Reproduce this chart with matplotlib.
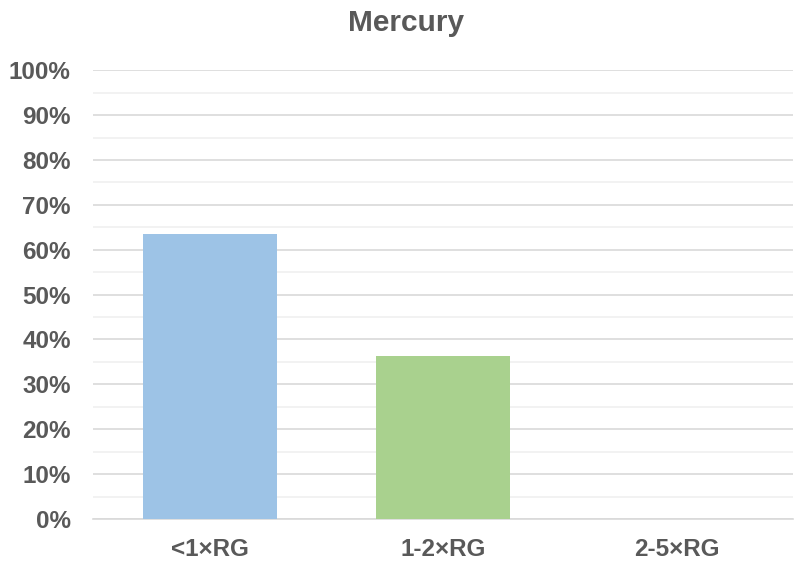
import matplotlib.pyplot as plt
from matplotlib.ticker import MultipleLocator, PercentFormatter

# Share of samples per concentration band
categories = ["<1×RG", "1-2×RG", "2-5×RG"]
shares = [63.6, 36.4, 0.0]
colors = ["#9dc3e6", "#a9d18e", "#f4b183"]

plt.rcParams["font.family"] = ["Liberation Sans", "DejaVu Sans"]
plt.rcParams["font.weight"] = "bold"
text_color = "#595959"

fig = plt.figure(figsize=(7.94, 5.66), dpi=100)
ax = fig.add_axes([0.117, 0.083, 0.882, 0.793])

x = range(len(categories))
ax.bar(x, shares, width=0.575, color=colors, zorder=3)

ax.set_xlim(-0.5, len(categories) - 0.5)
ax.set_ylim(0, 100)
ax.yaxis.set_major_locator(MultipleLocator(10))
ax.yaxis.set_minor_locator(MultipleLocator(5))
ax.yaxis.set_major_formatter(PercentFormatter(decimals=0))
ax.grid(axis="y", which="major", color="#d9d9d9", linewidth=1.2, zorder=0)
ax.grid(axis="y", which="minor", color="#f0f0f0", linewidth=1.2, zorder=0)

ax.set_xticks(list(x))
ax.set_xticklabels(categories)
ax.tick_params(axis="both", which="both", length=0, labelsize=17.5,
               labelcolor=text_color)
ax.tick_params(axis="x", pad=14)
ax.tick_params(axis="y", pad=16)

for side in ["top", "right", "left"]:
    ax.spines[side].set_visible(False)
ax.spines["bottom"].set_color("#d9d9d9")
ax.spines["bottom"].set_linewidth(1.2)

fig.text(0.512, 0.96, "Mercury", fontsize=21.5, color=text_color,
         fontweight="bold", ha="center", va="center")

fig.savefig("out.png", dpi=100, facecolor="white")
